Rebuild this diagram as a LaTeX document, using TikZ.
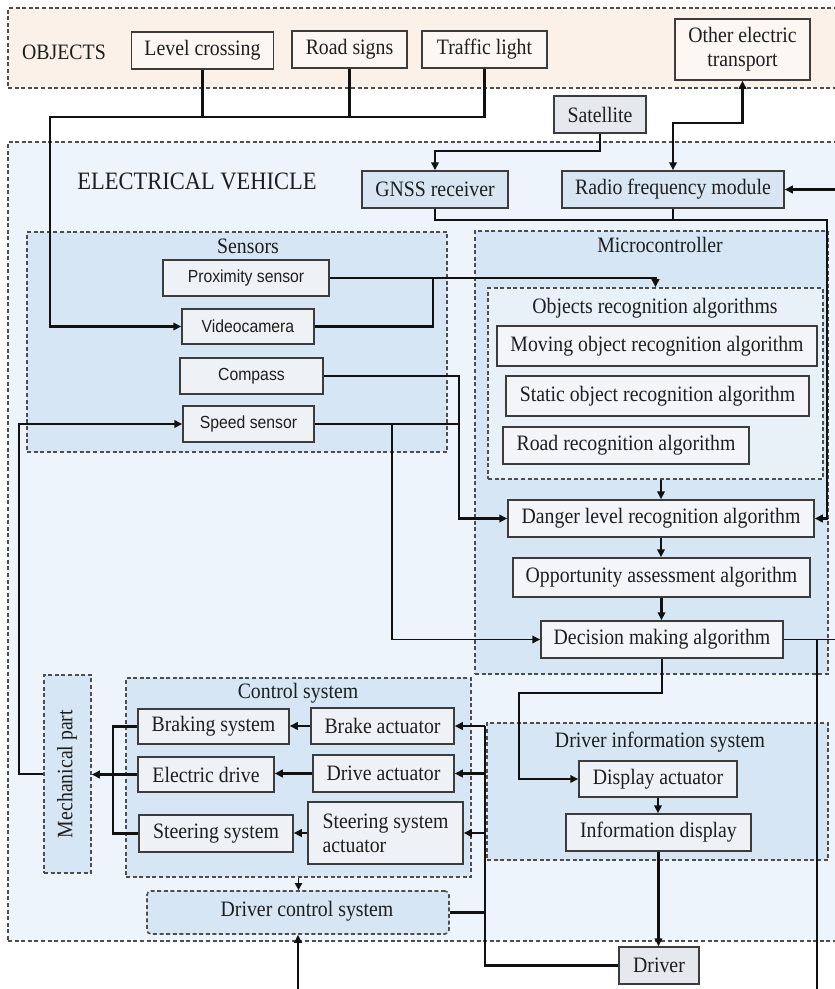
\documentclass[tikz,border=0pt]{standalone}
\usepackage{fontspec}
\setmainfont[FakeStretch=0.9]{Liberation Serif}
\newfontfamily\sensorfont[FakeStretch=0.9]{Liberation Sans}
\usetikzlibrary{arrows.meta}

\definecolor{objband}{HTML}{FBF1E9}
\definecolor{objfill}{HTML}{FCF7F3}
\definecolor{evfill}{HTML}{EEF4FB}
\definecolor{grpfill}{HTML}{D6E6F4}
\definecolor{subfill}{HTML}{E8F0F8}
\definecolor{unitfill}{HTML}{EEF2F7}
\definecolor{algfill}{HTML}{F3F5F8}
\definecolor{commfill}{HTML}{D8E6F3}
\definecolor{extfill}{HTML}{E5E8EC}
\definecolor{edge}{HTML}{3C3C3C}
\definecolor{dashc}{HTML}{4E4E4E}
\definecolor{txt}{HTML}{1E1E1E}
\definecolor{wire}{HTML}{111111}

\tikzset{
  lbl/.style={font=\fontsize{22}{24}\selectfont, text=txt, inner sep=0pt},
  box/.style={draw=edge, line width=1.5pt, inner sep=0pt, text=txt,
    font=\fontsize{22}{24}\selectfont},
  objbox/.style={box, fill=objfill},
  sensbox/.style={box, fill=unitfill, font=\sensorfont\fontsize{17.5}{20}\selectfont},
  algbox/.style={box, fill=algfill},
  ctlbox/.style={box, fill=unitfill},
  commbox/.style={box, fill=commfill},
  extbox/.style={box, fill=extfill},
  region/.style={draw=dashc, dash pattern=on 4pt off 2.6pt, line width=1.6pt, inner sep=0pt},
  conn/.style={draw=wire, line width=2.4pt},
  thinconn/.style={draw=wire, line width=1.8pt},
  arr/.style={-{Triangle[length=8pt,width=7.5pt]}},
  smallarr/.style={-{Triangle[length=7pt,width=7pt]}},
  darr/.style={{Triangle[length=8pt,width=7.5pt]}-{Triangle[length=8pt,width=7.5pt]}}
}

\begin{document}
\begin{tikzpicture}[x=1pt,y=-1pt]
\useasboundingbox (0,0) rectangle (835,989);
\fill[white] (0,0) rectangle (835,989);

% ---------- areas ----------
\node[region, fill=objband, minimum width=837, minimum height=80] (objects) at (426.5,48) {};
\node[region, fill=evfill, minimum width=837, minimum height=799] (ev) at (426.5,541.5) {};
\node[region, fill=grpfill, minimum width=420, minimum height=220] (sensors) at (237,342) {};
\node[region, fill=grpfill, minimum width=353, minimum height=443] (mcu) at (651.5,452.5) {};
\node[region, fill=subfill, minimum width=335, minimum height=191] (objrec) at (655.5,383.5) {};
\node[region, fill=grpfill, minimum width=345, minimum height=199] (cs) at (298.5,777.5) {};
\node[region, fill=grpfill, minimum width=47, minimum height=198] (mech) at (67.5,774) {};
\node[region, fill=grpfill, minimum width=341, minimum height=137] (dis) at (657.5,791.5) {};
\node[region, fill=grpfill, rounded corners=4pt, minimum width=302, minimum height=43] (dcs) at (298,912.5) {};

% ---------- area titles ----------
\node[lbl] (objtitle) at (64,52) {OBJECTS};
\node[lbl, font=\fontsize{25}{27}\selectfont] (evtitle) at (197,181) {ELECTRICAL VEHICLE};
\node[lbl] (senstitle) at (248,246) {Sensors};
\node[lbl] (mcutitle) at (660,245) {Microcontroller};
\node[lbl] (objrectitle) at (655,308) {Objects recognition algorithms};
\node[lbl] (cstitle) at (298,693) {Control system};
\node[lbl] (distitle) at (660,742) {Driver information system};
\node[lbl, rotate=90] (mechtitle) at (67,774) {Mechanical part};
\node[lbl] (dcstitle) at (307,911) {Driver control system};

% ---------- blocks ----------
\node[objbox, minimum width=142, minimum height=37] (lc) at (202.5,50.5) {Level crossing};
\node[objbox, minimum width=115, minimum height=37] (rs) at (349.5,49.5) {Road signs};
\node[objbox, minimum width=125, minimum height=37] (tl) at (484.5,49.5) {Traffic light};
\node[objbox, minimum width=135, minimum height=61, align=center] (oet) at (742.5,49.5) {Other electric\\transport};
\node[extbox, minimum width=92, minimum height=37] (sat) at (600,114.5) {Satellite};
\node[commbox, minimum width=146, minimum height=37] (gnss) at (435,189.5) {GNSS receiver};
\node[commbox, minimum width=222, minimum height=37] (rfm) at (673,189.5) {Radio frequency module};

\node[sensbox, minimum width=166, minimum height=36] (prox) at (246,278) {Proximity sensor};
\node[sensbox, minimum width=132, minimum height=35] (vid) at (248,326.5) {Videocamera};
\node[sensbox, minimum width=143, minimum height=36] (comp) at (251.5,376) {Compass};
\node[sensbox, minimum width=131, minimum height=36] (speed) at (248.5,424) {Speed sensor};

\node[algbox, minimum width=320, minimum height=40] (moving) at (657,346) {Moving object recognition algorithm};
\node[algbox, minimum width=303, minimum height=40] (static) at (657.5,396) {Static object recognition algorithm};
\node[algbox, minimum width=246, minimum height=37] (road) at (626,445.5) {Road recognition algorithm};
\node[algbox, minimum width=306, minimum height=37] (danger) at (661,518.5) {Danger level recognition algorithm};
\node[algbox, minimum width=297, minimum height=39] (opp) at (661.5,577.5) {Opportunity assessment algorithm};
\node[algbox, minimum width=242, minimum height=37] (dec) at (662,639.5) {Decision making algorithm};

\node[ctlbox, minimum width=151, minimum height=35] (brsys) at (213.5,726.5) {Braking system};
\node[ctlbox, minimum width=143, minimum height=36] (bract) at (382.5,726) {Brake actuator};
\node[ctlbox, minimum width=136, minimum height=35] (edrive) at (206,774.5) {Electric drive};
\node[ctlbox, minimum width=141, minimum height=37] (dract) at (383.5,773.5) {Drive actuator};
\node[ctlbox, minimum width=154, minimum height=37] (stsys) at (216,833.5) {Steering system};
\node[ctlbox, minimum width=155, minimum height=62, align=left] (stact) at (385.5,833) {Steering system\\actuator};

\node[ctlbox, minimum width=158, minimum height=36] (dact) at (658,779) {Display actuator};
\node[ctlbox, minimum width=185, minimum height=37] (idisp) at (658.5,832.5) {Information display};
\node[extbox, minimum width=80, minimum height=37] (driver) at (659,965.5) {Driver};

% ---------- bend points ----------
\coordinate (objbus) at (50,117);
\coordinate (satjn) at (600,151);
\coordinate (rfjn) at (742.5,123);
\coordinate (rfin) at (845,189.5);
\coordinate (gjn) at (827,220);
\coordinate (vjn) at (433,277);
\coordinate (cdn) at (459,518.5);
\coordinate (sdn) at (392,639.5);
\coordinate (decout) at (845,639.5);
\coordinate (decdn) at (817,639.5);
\coordinate (decbot) at (817,995);
\coordinate (d2) at (519,693);
\coordinate (bus) at (485,726);
\coordinate (lbus) at (113,726.5);
\coordinate (mjn) at (19,424);
\coordinate (dcsin) at (298,995);

% ---------- connections ----------
% objects to the camera
\draw[conn] (lc.south) -- (lc.south |- objbus);
\draw[conn] (rs.south) -- (rs.south |- objbus);
\draw[conn,arr] (tl.south) |- (objbus) |- (vid.west);
% navigation and radio links
\draw[conn,arr] (sat.south) -- (satjn) -| (gnss.north);
\draw[conn,darr] (oet.south) -- (rfjn) -| (rfm.north);
\draw[conn,arr] (rfin) -- (rfm.east);
\draw[conn,arr] (gnss.south) |- (gjn) |- (danger.east);
\draw[conn] (rfm.south) -- (rfm.south |- gjn);
% sensors to the microcontroller
\draw[conn,arr] (prox.east) -| (objrec.north);
\draw[conn] (vid.east) -| (vjn);
\draw[conn,arr] (comp.east) -| (cdn) -- (danger.west);
\draw[thinconn] (speed.east) -- (speed.east -| cdn);
\draw[thinconn,arr] (speed.east -| sdn) -- (sdn) -- (dec.west);
% algorithm chain
\draw[conn,arr] (danger.north |- objrec.south) -- (danger.north);
\draw[conn,arr] (danger.south) -- (danger.south |- opp.north);
\draw[conn,arr] (opp.south) -- (opp.south |- dec.north);
\draw[conn,arr] (dec.south) |- (d2) |- (dact.west);
\draw[thinconn] (dec.east) -- (decout);
\draw[thinconn] (decdn) -- (decbot);
% driver information
\draw[conn,arr] (dact.south) -- (dact.south |- idisp.north);
\draw[conn,arr] (idisp.south) -- (idisp.south |- driver.north);
% driver commands to the actuators
\draw[conn] (driver.west) -| (bus);
\draw[conn,arr] (bus) -- (bract.east);
\draw[conn,arr] (bus |- dract.east) -- (dract.east);
\draw[conn,arr] (bus |- stact.east) -- (stact.east);
\draw[conn] (dcs.east) -- (dcs.east -| bus);
% actuators to the mechanics
\draw[conn,arr] (bract.west) -- (bract.west -| brsys.east);
\draw[conn,arr] (dract.west) -- (dract.west -| edrive.east);
\draw[conn,arr] (stact.west) -- (stact.west -| stsys.east);
\draw[conn] (brsys.west) -- (brsys.west -| lbus) |- (stsys.west);
\draw[conn,arr] (edrive.west) -- (edrive.west -| mech.east);
\draw[conn,arr] (mech.west) -| (mjn) -- (speed.west);
% driver control system
\draw[thinconn,smallarr] (cs.south) -- (cs.south |- dcs.north);
\draw[conn,arr] (dcsin) -- (dcs.south);
\end{tikzpicture}
\end{document}
